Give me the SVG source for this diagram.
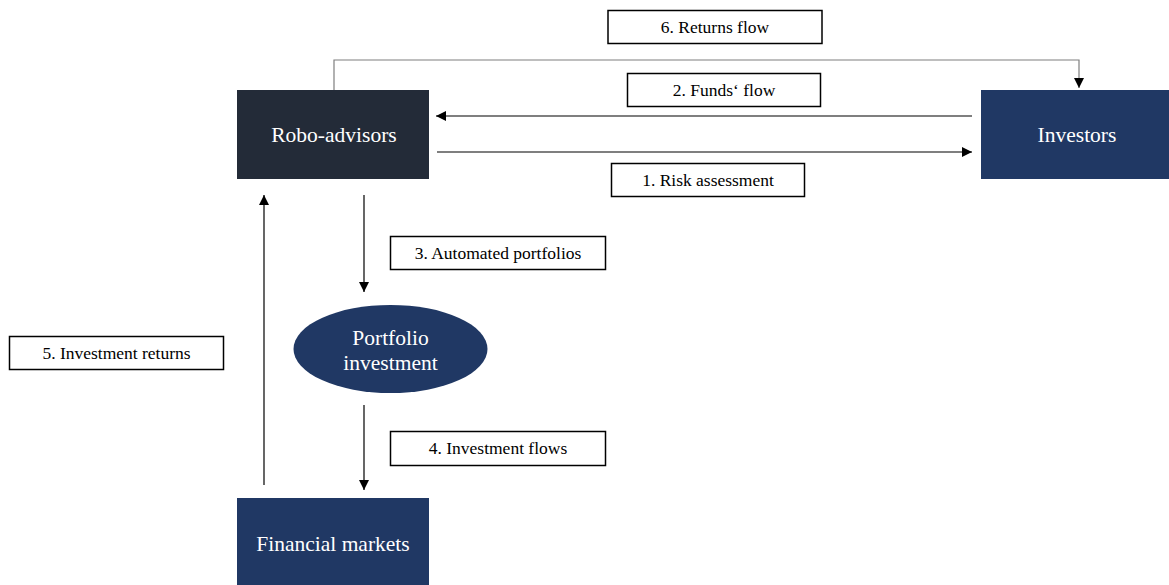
<svg xmlns="http://www.w3.org/2000/svg" width="1169" height="585" viewBox="0 0 1169 585">
<style>
.node{font-family:"Liberation Serif","Times New Roman",serif;font-size:21.5px;fill:#ffffff;text-anchor:middle}
.lbl rect{fill:#ffffff;stroke:#000000;stroke-width:1.5}
.lbl text{font-family:"Liberation Serif","Times New Roman",serif;font-size:17.5px;fill:#000000;text-anchor:middle}
.conn{fill:none;stroke:#000000;stroke-width:1.2}
</style>
<defs>
<marker id="arr" viewBox="0 0 10 10" refX="10" refY="5" markerWidth="10" markerHeight="10" markerUnits="userSpaceOnUse" orient="auto">
<path d="M0,0 L10,5 L0,10 z" fill="#000000"/>
</marker>
</defs>
<rect width="1169" height="585" fill="#ffffff"/>
<g id="connectors">
<path class="conn" d="M334,90 V60 H1079 V88" style="stroke:#7f7f7f" marker-end="url(#arr)"/>
<path class="conn" d="M972,116 H436" marker-end="url(#arr)"/>
<path class="conn" d="M437,152 H972" marker-end="url(#arr)"/>
<path class="conn" d="M364,195 V292" marker-end="url(#arr)"/>
<path class="conn" d="M364,405 V490" marker-end="url(#arr)"/>
<path class="conn" d="M264,485 V195" marker-end="url(#arr)"/>
</g>
<g id="robo-advisors">
<rect x="237" y="90" width="192" height="89" fill="#232b38"/>
<text class="node" x="334" y="142">Robo-advisors</text>
</g>
<g id="investors">
<rect x="981" y="90" width="188" height="89" fill="#203864"/>
<text class="node" x="1077" y="142">Investors</text>
</g>
<g id="portfolio-investment">
<ellipse cx="390.5" cy="349" rx="97" ry="44" fill="#203864"/>
<text class="node" x="390.5" y="345">Portfolio</text>
<text class="node" x="390.5" y="370">investment</text>
</g>
<g id="financial-markets">
<rect x="237" y="498" width="192" height="87" fill="#203864"/>
<text class="node" x="333" y="551">Financial markets</text>
</g>
<g id="label-6" class="lbl">
<rect x="608" y="10.5" width="214" height="33"/>
<text x="715" y="33">6. Returns flow</text>
</g>
<g id="label-2" class="lbl">
<rect x="627.5" y="73.5" width="193" height="33"/>
<text x="724" y="96">2. Funds‘ flow</text>
</g>
<g id="label-1" class="lbl">
<rect x="611.5" y="163.5" width="193" height="33"/>
<text x="708" y="186">1. Risk assessment</text>
</g>
<g id="label-3" class="lbl">
<rect x="390.5" y="236.5" width="215" height="33"/>
<text x="498" y="259">3. Automated portfolios</text>
</g>
<g id="label-5" class="lbl">
<rect x="9.5" y="336.5" width="214" height="33"/>
<text x="116.5" y="359">5. Investment  returns</text>
</g>
<g id="label-4" class="lbl">
<rect x="390.5" y="431.5" width="215" height="34"/>
<text x="498" y="454">4. Investment  flows</text>
</g>
</svg>
